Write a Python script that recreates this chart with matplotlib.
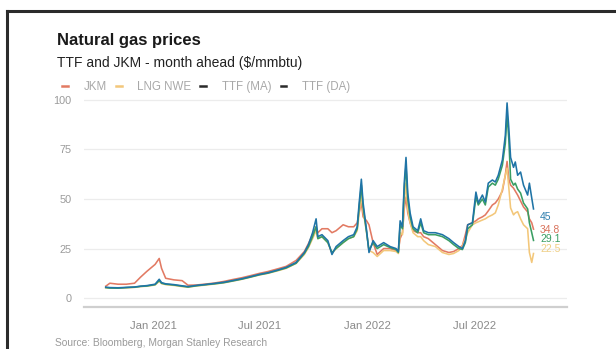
import matplotlib
matplotlib.use("Agg")
import matplotlib.pyplot as plt
import matplotlib.dates as mdates
from matplotlib.lines import Line2D
import pandas as pd

plt.rcParams['font.family'] = ['Liberation Sans', 'DejaVu Sans']

dates = [
    "2020-10-12", "2020-10-19", "2020-11-02", "2020-11-16", "2020-11-30",
    "2020-12-10", "2020-12-21", "2021-01-04", "2021-01-11", "2021-01-15",
    "2021-01-22", "2021-02-05", "2021-02-19", "2021-03-01", "2021-03-15",
    "2021-04-01", "2021-04-15", "2021-05-01", "2021-05-15", "2021-06-01",
    "2021-06-15", "2021-07-01", "2021-07-15", "2021-08-01", "2021-08-15",
    "2021-09-01", "2021-09-15", "2021-09-22", "2021-09-29", "2021-10-05",
    "2021-10-08", "2021-10-15", "2021-10-25", "2021-11-01", "2021-11-08",
    "2021-11-20", "2021-11-29", "2021-12-08", "2021-12-14", "2021-12-17",
    "2021-12-21", "2021-12-24", "2021-12-30", "2022-01-03", "2022-01-10",
    "2022-01-17", "2022-01-28", "2022-02-08", "2022-02-18", "2022-02-22",
    "2022-02-25", "2022-03-01", "2022-03-04", "2022-03-07", "2022-03-10",
    "2022-03-14", "2022-03-19", "2022-03-27", "2022-04-01", "2022-04-06",
    "2022-04-14", "2022-04-26", "2022-05-08", "2022-05-19", "2022-05-27",
    "2022-06-05", "2022-06-11", "2022-06-16", "2022-06-20", "2022-06-28",
    "2022-07-04", "2022-07-08", "2022-07-15", "2022-07-20", "2022-07-25",
    "2022-08-01", "2022-08-06", "2022-08-11", "2022-08-18", "2022-08-23",
    "2022-08-26", "2022-08-29", "2022-09-01", "2022-09-06", "2022-09-09",
    "2022-09-13", "2022-09-18", "2022-09-23", "2022-09-30", "2022-10-03",
    "2022-10-07", "2022-10-10",
]

jkm = [
    6.0, 7.5, 7.0, 7.0, 7.5, 10.5, 13.5, 17.0, 20.0, 15.0,
    10.0, 9.2, 8.8, 6.5, 6.6, 7.1, 7.6, 8.4, 9.3, 10.3,
    11.3, 12.5, 13.4, 14.8, 16.0, 19.0, 23.5, 27.5, 32.0, 36.0,
    33.0, 35.0, 35.0, 33.0, 34.0, 37.0, 36.0, 36.0, 38.0, 43.0,
    48.0, 41.0, 39.0, 37.0, 28.0, 22.0, 25.0, 25.0, 24.0, 24.0,
    30.0, 33.0, 45.0, 51.0, 43.0, 38.0, 34.0, 33.0, 33.0, 31.0,
    30.0, 27.0, 24.0, 23.0, 23.5, 25.0, 26.5, 32.0, 37.0, 38.0,
    39.0, 40.0, 41.0, 42.0, 44.0, 47.0, 48.0, 50.0, 54.0, 62.0,
    69.0, 60.0, 57.0, 55.5, 54.0, 52.0, 49.0, 46.0, 43.5, 40.0,
    38.0, 34.8,
]

lng_nwe = [
    5.2, 5.0, 5.0, 5.2, 5.4, 5.8, 6.0, 6.6, 8.5, 7.3,
    6.8, 6.4, 5.8, 5.5, 6.1, 6.6, 7.1, 7.7, 8.5, 9.5,
    10.5, 11.7, 12.5, 13.8, 15.0, 17.5, 22.0, 25.5, 30.0, 34.0,
    30.0, 31.0, 28.0, 22.5, 25.0, 28.0, 30.0, 31.0, 34.0, 42.0,
    52.0, 44.0, 33.0, 24.0, 23.0, 21.0, 24.0, 24.0, 23.5, 22.5,
    33.0, 32.0, 48.0, 58.0, 45.0, 38.0, 33.0, 31.0, 31.0, 29.0,
    27.0, 26.0, 23.0, 22.0, 22.5, 24.0, 26.0, 30.0, 33.0, 37.0,
    38.0, 38.5, 39.4, 40.0, 41.0, 42.0, 43.0, 47.0, 55.0, 62.0,
    65.6, 55.6, 45.5, 42.0, 43.0, 43.6, 40.0, 37.0, 35.0, 23.0,
    18.0, 22.5,
]

ttf_ma = [
    5.5, 5.3, 5.2, 5.4, 5.6, 6.0, 6.3, 7.0, 9.5, 7.8,
    7.2, 6.8, 6.2, 5.8, 6.4, 6.9, 7.4, 8.0, 8.8, 9.8,
    10.8, 12.0, 12.8, 14.2, 15.5, 18.0, 23.0, 27.0, 33.0, 40.0,
    31.0, 32.0, 29.0, 22.0, 26.0, 29.0, 31.0, 32.0, 36.0, 47.0,
    60.0, 48.0, 34.0, 23.0, 29.0, 26.0, 28.0, 26.0, 25.0, 23.5,
    39.0, 36.0, 58.0, 71.0, 53.0, 43.0, 36.0, 34.0, 40.0, 34.0,
    33.0, 33.0, 32.0, 30.0, 28.0, 26.0, 25.0, 29.0, 37.0, 38.0,
    53.5, 48.0, 52.0, 48.5, 58.0, 59.6, 58.6, 62.0, 69.7, 82.0,
    98.5, 85.7, 71.0, 66.0, 68.7, 62.0, 63.6, 57.0, 52.0, 58.0,
    50.5, 45.0,
]

ttf_da = [
    5.3, 5.1, 5.0, 5.3, 5.5, 5.9, 6.1, 6.8, 8.8, 7.5,
    7.0, 6.6, 6.0, 5.6, 6.2, 6.8, 7.2, 7.8, 8.6, 9.6,
    10.6, 11.8, 12.6, 14.0, 15.2, 17.6, 22.5, 26.0, 31.0, 36.0,
    30.0, 31.0, 28.0, 23.0, 25.0, 28.0, 30.0, 31.0, 35.0, 45.0,
    57.0, 46.0, 33.0, 24.0, 28.0, 25.0, 27.0, 25.5, 24.5, 23.0,
    37.0, 35.0, 55.0, 67.0, 50.0, 41.0, 35.0, 33.0, 38.0, 33.0,
    32.0, 32.0, 31.0, 29.0, 27.0, 25.0, 24.5, 28.0, 35.0, 37.0,
    51.0, 47.0, 50.0, 47.0, 56.0, 58.0, 57.0, 60.0, 67.0, 78.0,
    93.0, 80.0, 60.0, 57.0, 58.0, 55.0, 53.0, 48.0, 45.0, 38.0,
    33.0, 29.1,
]

series_names = ["JKM", "LNG NWE", "TTF (MA)", "TTF (DA)"]
end_labels = ["34.8", "22.5", "45", "29.1"]
yticks = [0, 25, 50, 75, 100]

x = pd.to_datetime(dates)

c_jkm = "#e27a63"
c_lng = "#f3c77a"
c_ma = "#1f74a6"
c_da = "#3a9e63"

W, H = 616, 349
fig = plt.figure(figsize=(W / 100, H / 100), dpi=100)
fig.patch.set_facecolor("white")

ax = fig.add_axes([84 / W, 42 / H, 483 / W, 211 / H])
ax.set_ylim(-4.5, 102)
ax.set_xlim(pd.Timestamp("2020-09-05"), pd.Timestamp("2022-12-06"))

for v in yticks:
    ax.axhline(v, color="#ececec", lw=0.9, zorder=0)

lw = 1.15
ax.plot(x, jkm, color=c_jkm, lw=lw, zorder=2)
ax.plot(x, lng_nwe, color=c_lng, lw=lw, zorder=3)
ax.plot(x, ttf_da, color=c_da, lw=lw, zorder=4)
ax.plot(x, ttf_ma, color=c_ma, lw=lw, zorder=5)

# end labels
lbl_x = x[-1] + pd.Timedelta(days=11)
ax.text(lbl_x, ttf_ma[-1] - 4.2, end_labels[2], color="#2f7fae", fontsize=7.5, va="center", ha="left")
ax.text(lbl_x, jkm[-1] - 0.3, end_labels[0], color="#d9735c", fontsize=7.5, va="center", ha="left")
ax.text(lbl_x, ttf_da[-1] + 0.9, end_labels[3], color="#3a9e63", fontsize=7.5, va="center", ha="left")
ax.text(lbl_x, lng_nwe[-1] + 2.2, end_labels[1], color="#efcf85", fontsize=7.5, va="center", ha="left")

for s in ["top", "right", "left"]:
    ax.spines[s].set_visible(False)
ax.spines["bottom"].set_color("#cfcfcf")
ax.spines["bottom"].set_linewidth(1.6)

ax.set_yticks(yticks)
ax.set_yticklabels([str(v) for v in yticks])
ax.tick_params(axis="y", length=0, pad=9, labelsize=7.8, labelcolor="#9a9a9a")
ax.xaxis.set_major_locator(mdates.MonthLocator(bymonth=[1, 7]))
ax.xaxis.set_major_formatter(mdates.DateFormatter("%b %Y"))
ax.tick_params(axis="x", length=0, pad=10, labelsize=8.2, labelcolor="#8a8a8a")

# titles
fig.text(57 / W, 1 - 45 / H, "Natural gas prices", fontsize=12, fontweight="bold",
         color="#1a1a1a", va="baseline", ha="left")
fig.text(57 / W, 1 - 67 / H, "TTF and JKM - month ahead ($/mmbtu)", fontsize=10,
         color="#222222", va="baseline", ha="left")
fig.text(55 / W, 1 - 346 / H, "Source: Bloomberg, Morgan Stanley Research", fontsize=7.4,
         color="#9a9a9a", va="baseline", ha="left")

handles = [Line2D([0], [0], color=c, lw=1.8) for c in [c_jkm, c_lng, "#2a2a2a", "#2a2a2a"]]
leg = fig.legend(handles, series_names, loc="center left",
                 bbox_to_anchor=(62 / W, 1 - 87 / H), ncol=4, frameon=False,
                 fontsize=8.3, handlelength=0.5, handletextpad=1.35, columnspacing=0.8,
                 borderpad=0, borderaxespad=0)
for t in leg.get_texts():
    t.set_color("#a8a8a8")

# frame
fig.add_artist(Line2D([7 / W, 7 / W], [0, 1 - 11 / H], transform=fig.transFigure,
                      color="#2b2b2b", lw=2.2))
fig.add_artist(Line2D([7 / W, 1], [1 - 11 / H, 1 - 11 / H], transform=fig.transFigure,
                      color="#2b2b2b", lw=2.2))

fig.savefig("out.png", dpi=100, facecolor="white")
